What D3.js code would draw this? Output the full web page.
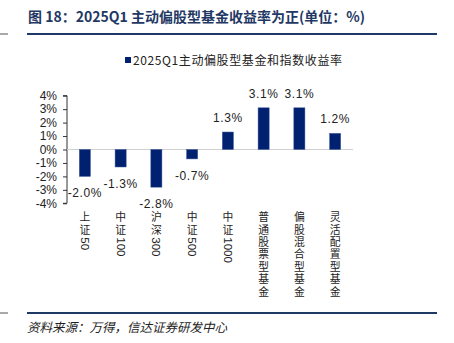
<!DOCTYPE html>
<html><head><meta charset="utf-8">
<script src="https://cdn.jsdelivr.net/npm/d3@7"></script>
<style>body{margin:0;background:#fff}svg{display:block}</style>
</head><body>
<svg id="c" width="454" height="343"></svg>
<script>
const categories = ["上证50","中证100","沪深300","中证500","中证1000","普通股票型基金","偏股混合型基金","灵活配置型基金"];
const values = [-2.0,-1.3,-2.8,-0.7,1.3,3.1,3.1,1.2];
const yTicks = [-4,-3,-2,-1,0,1,2,3,4];
const seriesName = "2025Q1主动偏股型基金和指数收益率";
const titleText = "图 18：2025Q1 主动偏股型基金收益率为正(单位：%)";
const sourceText = "资料来源：万得，信达证券研发中心";

const svg = d3.select("#c");
const navy = "#1f3864";
const barColor = "#002070";
const numFont = "'Liberation Sans', Arial, sans-serif";
const cjkFont = "'Noto Sans CJK SC', sans-serif";
const mixFont = "'Liberation Sans', 'Noto Sans CJK SC', sans-serif";

// title
svg.append("text").attr("x",28).attr("y",22).attr("font-family",cjkFont)
  .attr("font-weight","bold").attr("font-size",14).attr("fill",navy).text(titleText);
svg.append("line").attr("x1",27).attr("x2",437).attr("y1",34).attr("y2",34).attr("stroke",navy).attr("stroke-width",2);
svg.append("line").attr("x1",0).attr("x2",8).attr("y1",34).attr("y2",34).attr("stroke","#555").attr("stroke-width",1);

// legend
svg.append("rect").attr("x",125).attr("y",57).attr("width",6).attr("height",6).attr("fill",barColor);
svg.append("text").attr("x",133).attr("y",64.5).attr("font-family",cjkFont).attr("font-size",12)
  .attr("letter-spacing",0.6).attr("fill","#222").text(seriesName);

const x = d3.scaleBand().domain(categories).range([67,353]).paddingInner(0.69).paddingOuter(0.345);
const y = d3.scaleLinear().domain([-4,4]).range([203.3,95.7]);

// y axis
const ya = svg.append("g").attr("transform","translate(67,0)")
  .call(d3.axisLeft(y).tickValues(yTicks).tickSize(4).tickPadding(6).tickFormat(d=>d+"%"));
ya.selectAll("text").attr("font-family",numFont).attr("font-size",12).attr("fill","#222");
ya.select(".domain").attr("stroke","#333").attr("d","M-4,95.7H0V203.3H-4");
ya.selectAll(".tick line").attr("stroke","#333");

// zero line
svg.append("line").attr("x1",67).attr("x2",353).attr("y1",y(0)).attr("y2",y(0)).attr("stroke","#d0d0d0").attr("stroke-width",1);

// bars
svg.selectAll(".bar").data(values).enter().append("rect")
  .attr("x",(d,i)=>x(categories[i])).attr("width",x.bandwidth())
  .attr("y",d=>Math.min(y(d),y(0))).attr("height",d=>Math.abs(y(d)-y(0)))
  .attr("fill",barColor).attr("stroke","#3d5a9c").attr("stroke-width",0.5);

// data labels
svg.selectAll(".lbl").data(values).enter().append("text")
  .attr("x",(d,i)=>x(categories[i])+x.bandwidth()/2)
  .attr("y",d=> d<0 ? y(d)+21 : y(d)-10)
  .attr("text-anchor","middle").attr("font-family",numFont).attr("font-size",12)
  .attr("letter-spacing",0.6).attr("fill","#222")
  .text(d=>d.toFixed(1)+"%");

// vertical category labels (CJK upright, digit runs rotated)
const fs = 10.8, step = 12.4, top0 = 211.5;
categories.forEach((c,i)=>{
  const cx = x(c)+x.bandwidth()/2;
  const g = svg.append("g");
  const tokens = c.match(/[0-9A-Za-z]+|./g);
  let cur = top0;
  tokens.forEach(t=>{
    if(/^[0-9A-Za-z]+$/.test(t)){
      const tx = g.append("text").attr("font-family",numFont).attr("font-size",11.5).attr("fill","#222")
        .attr("transform",`translate(${cx-4},${cur+1}) rotate(90)`).text(t);
      const w = tx.node().getComputedTextLength();
      cur += w + 2;
    } else {
      g.append("text").attr("x",cx).attr("y",cur+fs*0.9).attr("text-anchor","middle")
        .attr("font-family",mixFont).attr("font-size",fs).attr("fill","#222").text(t);
      cur += step;
    }
  });
});

// footer
svg.append("line").attr("x1",27).attr("x2",437).attr("y1",313).attr("y2",313).attr("stroke",navy).attr("stroke-width",2);
svg.append("line").attr("x1",0).attr("x2",8).attr("y1",313).attr("y2",313).attr("stroke","#555").attr("stroke-width",1);
svg.append("text").attr("x",27).attr("y",332).attr("font-family",cjkFont).attr("font-size",12.5)
  .attr("font-style","italic").attr("fill","#222").text(sourceText);
</script>
</body></html>
